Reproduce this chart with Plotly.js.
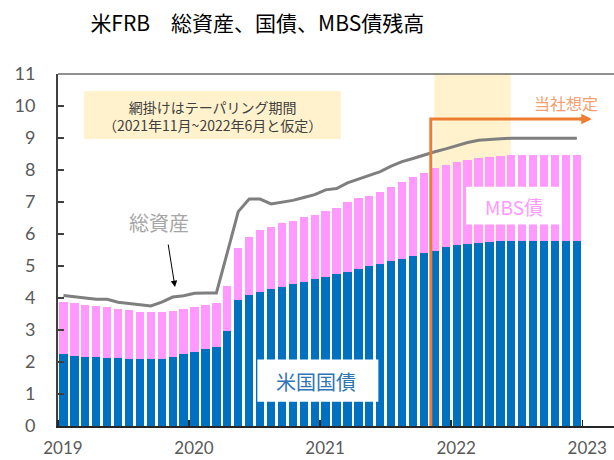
<!DOCTYPE html>
<html>
<head>
<meta charset="utf-8">
<script src="https://cdn.plot.ly/plotly-3.0.1.min.js"></script>
<style>html,body{margin:0;padding:0;background:#fff;}#chart{width:614px;height:460px;}</style>
</head>
<body>
<div id="chart"></div>
<script>
// Months Jan 2019 – Dec 2022 (one bar each)
const months = [
  "2019-01","2019-02","2019-03","2019-04","2019-05","2019-06","2019-07","2019-08","2019-09","2019-10","2019-11","2019-12",
  "2020-01","2020-02","2020-03","2020-04","2020-05","2020-06","2020-07","2020-08","2020-09","2020-10","2020-11","2020-12",
  "2021-01","2021-02","2021-03","2021-04","2021-05","2021-06","2021-07","2021-08","2021-09","2021-10","2021-11","2021-12",
  "2022-01","2022-02","2022-03","2022-04","2022-05","2022-06","2022-07","2022-08","2022-09","2022-10","2022-11","2022-12"
];
// 米国国債 (trillion USD)
const treasury = [
  2.24,2.20,2.17,2.17,2.14,2.11,2.08,2.08,2.08,2.08,2.17,2.24,
  2.30,2.40,2.46,2.97,3.95,4.10,4.20,4.29,4.35,4.45,4.51,4.60,
  4.67,4.75,4.82,4.91,5.01,5.07,5.17,5.23,5.32,5.42,5.48,5.58,
  5.65,5.69,5.72,5.75,5.77,5.77,5.77,5.77,5.77,5.77,5.77,5.77
];
// MBS債 (trillion USD)
const mbs = [
  1.64,1.63,1.62,1.59,1.58,1.56,1.55,1.49,1.49,1.49,1.43,1.43,
  1.42,1.39,1.39,1.39,1.62,1.82,1.92,1.94,1.98,1.97,2.03,1.99,
  2.05,2.07,2.19,2.22,2.19,2.25,2.31,2.41,2.45,2.50,2.57,2.57,
  2.59,2.62,2.64,2.66,2.67,2.70,2.70,2.70,2.70,2.70,2.70,2.70
];
// 総資産 (trillion USD)
const totalAssets = [
  4.08,4.04,3.99,3.96,3.96,3.87,3.83,3.79,3.75,3.87,4.03,4.07,
  4.15,4.16,4.16,5.42,6.70,7.09,7.09,6.94,7.00,7.05,7.14,7.23,
  7.38,7.42,7.60,7.71,7.82,7.95,8.12,8.26,8.36,8.47,8.57,8.66,
  8.77,8.86,8.93,8.96,8.98,8.99,8.99,8.99,8.99,8.99,8.99,8.99
];
const yearLabels = ["2019","2020","2021","2022","2023"];
const yearTicks = [0,12,24,36,48];
const yTicks = [0,1,2,3,4,5,6,7,8,9,10,11];

const xPos = months.map((m,i)=>i+0.5);
const JP = '"Noto Sans CJK JP", sans-serif';
const NUM = 'Lato, "Noto Sans", sans-serif';
const ORANGE = '#ED7D31';

const traces = [
  {type:'bar', x:xPos, y:treasury, name:'米国国債', marker:{color:'#0070C0'}, hoverinfo:'skip'},
  {type:'bar', x:xPos, y:mbs, name:'MBS債', marker:{color:'#FF99FF'}, hoverinfo:'skip'},
  {type:'scatter', mode:'lines', x:xPos, y:totalAssets, name:'総資産', line:{color:'#7F7F7F', width:3}, hoverinfo:'skip'}
];

const layout = {
  width:614, height:460,
  margin:{l:58, r:0, t:74, b:34, pad:0},
  paper_bgcolor:'#ffffff', plot_bgcolor:'#ffffff',
  showlegend:false,
  barmode:'stack', bargap:0.24,
  title:{text:'米FRB\u3000総資産、国債、MBS債残高', font:{family:JP, size:21, color:'#000000'},
         x:0.419, xref:'container', xanchor:'center', y:0.948, yref:'container', yanchor:'middle'},
  xaxis:{range:[0,50.9], tickmode:'array', tickvals:yearTicks.map(v=>v+0.45), ticktext:yearLabels,
         ticks:'', showgrid:false, zeroline:false, showline:true, linecolor:'#262626', linewidth:2,
         tickfont:{family:NUM, size:17, color:'#595959'}, ticklabelstandoff:6,
         minor:{tickmode:'array', tickvals:yearTicks, ticks:'inside', ticklen:6, tickwidth:1.5, tickcolor:'#262626', showgrid:false}},
  yaxis:{range:[0,11], tickmode:'array', tickvals:yTicks, ticktext:yTicks.map(String),
         ticks:'inside', ticklen:6, tickwidth:1.5, tickcolor:'#404040',
         showgrid:false, zeroline:false, showline:true, linecolor:'#404040', linewidth:2,
         tickfont:{family:NUM, size:18, color:'#595959'}, ticklabelstandoff:17},
  shapes:[
    {type:'rect', xref:'x', yref:'paper', x0:34.45, x1:41.45, y0:0, y1:1, fillcolor:'#FFF2CC', line:{width:0}, layer:'below'},
    {type:'rect', xref:'x', yref:'y', x0:2.38, x1:25.89, y0:8.97, y1:10.47, fillcolor:'#FFF2CC', line:{width:0}, layer:'below'},
    {type:'line', xref:'paper', yref:'paper', x0:0, x1:1, y0:1, y1:1, line:{color:'#6b6b6b', width:1.5}, layer:'above'},
    {type:'rect', xref:'x', yref:'y', x0:37.36, x1:46.13, y0:6.30, y1:7.48, fillcolor:'#ffffff', line:{width:0}, layer:'above'},
    {type:'rect', xref:'x', yref:'y', x0:18.25, x1:29.33, y0:0.76, y1:2.08, fillcolor:'#ffffff', line:{width:0}, layer:'above'},
    {type:'path', xref:'x', yref:'y', path:'M 34.13,0 L 34.13,9.59 L 48.2,9.59', line:{color:ORANGE, width:3}, layer:'above'}
  ],
  annotations:[
    {xref:'x', yref:'y', x:48.87, y:9.59, axref:'x', ayref:'y', ax:47.6, ay:9.59, text:'', showarrow:true,
     arrowhead:2, arrowsize:0.7, arrowwidth:3, arrowcolor:ORANGE},
    {xref:'x', yref:'y', x:10.71, y:4.34, ax:-7, ay:-44, text:'', showarrow:true,
     arrowhead:2, arrowsize:1.3, arrowwidth:1, arrowcolor:'#000000'},
    {xref:'x', yref:'y', x:9.25, y:6.375, text:'総資産', showarrow:false, font:{family:JP, size:20, color:'#A6A6A6'}},
    {xref:'x', yref:'y', x:14.1, y:9.69, text:'網掛けはテーパリング期間<br>（2021年11月~2022年6月と仮定）', showarrow:false,
     font:{family:JP, size:14, color:'#404040'}},
    {xref:'x', yref:'y', x:46.52, y:10.09, text:'当社想定', showarrow:false, font:{family:JP, size:16, color:'#F4A070'}},
    {xref:'x', yref:'y', x:41.7, y:6.85, text:'MBS債', showarrow:false, font:{family:JP, size:19, color:'#FF99FF'}},
    {xref:'x', yref:'y', x:23.6, y:1.38, text:'米国国債', showarrow:false, font:{family:JP, size:20, color:'#2E75B6'}},
    {xref:'x', yref:'y', x:0.82, y:11.375, text:'（兆米ドル）', showarrow:false, font:{family:JP, size:13, color:'#404040'}},
    {xref:'x', yref:'y', x:49.9, y:-0.31, text:'（年）', showarrow:false, font:{family:JP, size:13, color:'#404040'}}
  ]
};

Plotly.newPlot('chart', traces, layout, {staticPlot:true, displayModeBar:false});
</script>
</body>
</html>
